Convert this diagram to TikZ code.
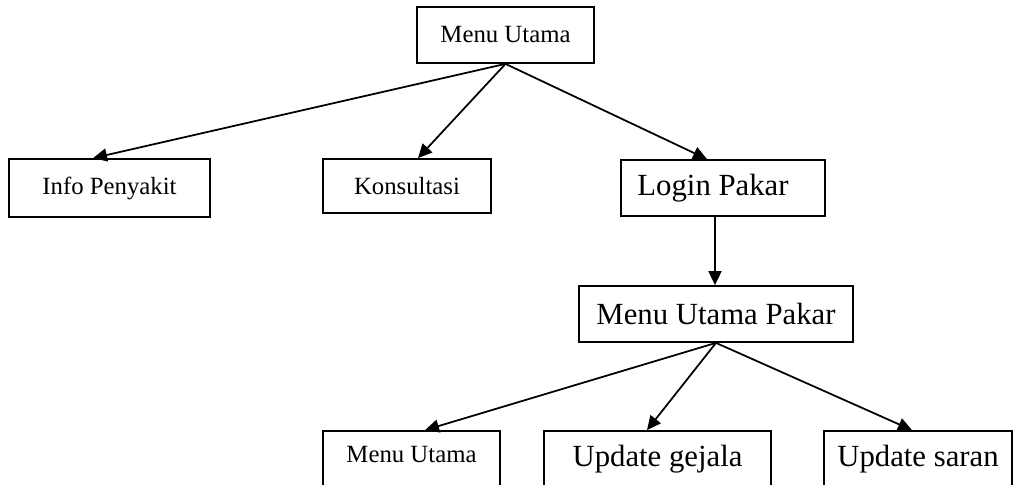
\documentclass[tikz,border=0pt]{standalone}
\usepackage{fontspec}
\setmainfont{Liberation Serif}
\usepackage{tikz}
\usetikzlibrary{arrows.meta}

\begin{document}
\begin{tikzpicture}[kotak/.style={draw,line width=1pt,minimum height=1.12cm,inner sep=0pt},
  kecil/.style={font=\fontsize{14.1}{16}\selectfont},
  besar/.style={font=\fontsize{17.5}{20}\selectfont},
  panah/.style={line width=1pt,-{Triangle[length=2.8mm,width=2.6mm]}}]
\useasboundingbox (0,0) rectangle (20.28,-9.7);
\node[kotak,kecil,minimum width=3.54cm] (utama) at (10.11,-0.70) {Menu Utama};
\node[kotak,kecil,minimum width=4.02cm,minimum height=1.16cm] (info) at (2.19,-3.76) {Info Penyakit};
\node[kotak,kecil,minimum width=3.36cm,minimum height=1.08cm] (konsul) at (8.14,-3.72) {Konsultasi};
\node[kotak,besar,minimum width=4.08cm] (login) at (14.46,-3.76) {Login Pakar\hspace*{0.4cm}};
\node[kotak,besar,minimum width=5.48cm] (pakar) at (14.32,-6.28) {Menu Utama Pakar};
% menu bawah, terpotong di tepi bawah
\node[kotak,kecil,minimum width=3.54cm,text depth=0.17cm] (menu2) at (8.23,-9.18) {Menu Utama};
\node[kotak,besar,minimum width=4.54cm] (gejala) at (13.15,-9.18) {Update gejala};
\node[kotak,besar,minimum width=3.76cm] (saran) at (18.36,-9.18) {Update saran};

\draw[panah] (utama.south) -- ([xshift=-0.33cm]info.north);
\draw[panah] (utama.south) -- ([xshift=0.22cm]konsul.north);
\draw[panah] (utama.south) -- ([xshift=-0.32cm]login.north);
\draw[panah] ([xshift=-0.16cm]login.south) -- ([xshift=-0.16cm]login.south |- pakar.north);
\draw[panah] (pakar.south) -- ([xshift=0.27cm]menu2.north);
\draw[panah] (pakar.south) -- ([xshift=-0.21cm]gejala.north);
\draw[panah] (pakar.south) -- ([xshift=-0.12cm]saran.north);
\end{tikzpicture}
\end{document}
